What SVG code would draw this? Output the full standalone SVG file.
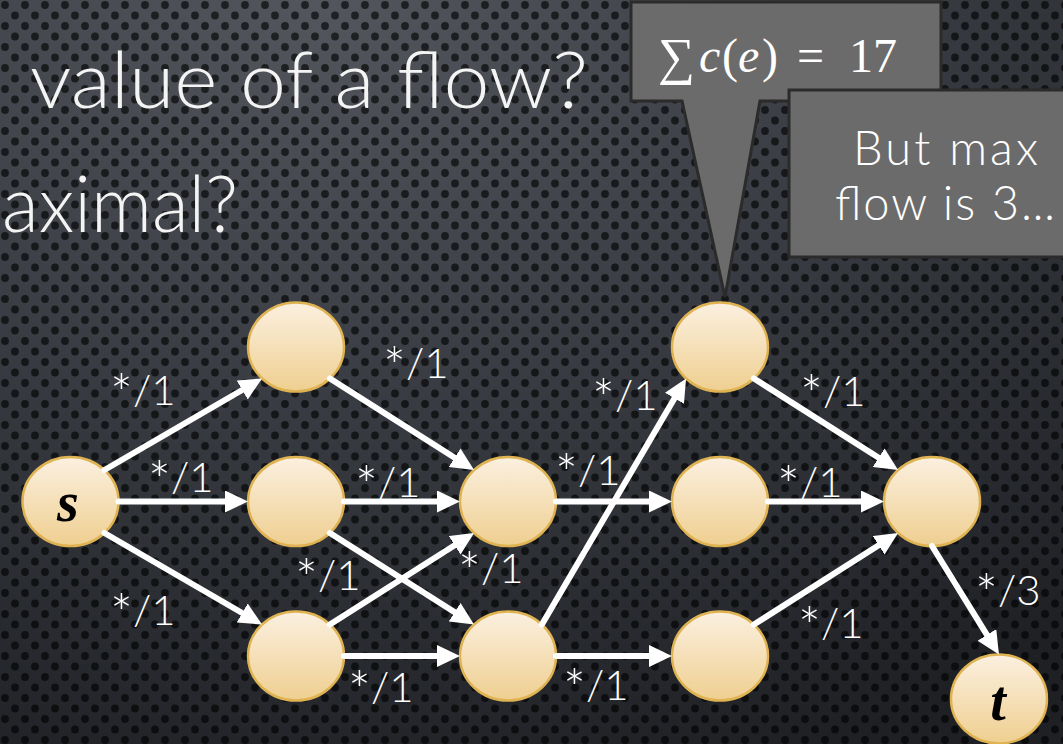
<svg xmlns="http://www.w3.org/2000/svg" width="1063" height="744" viewBox="0 0 1063 744">
<defs>
<radialGradient id="bg" cx="0.3" cy="0" r="1.1" gradientUnits="objectBoundingBox">
<stop offset="0" stop-color="#53565d"/>
<stop offset="0.5" stop-color="#383b41"/>
<stop offset="1" stop-color="#1e2024"/>
</radialGradient>
<pattern id="dots" x="0" y="0" width="20" height="21" patternUnits="userSpaceOnUse">
<circle cx="5" cy="5" r="3.9" fill="#000" fill-opacity="0.62"/>
<circle cx="15" cy="15.5" r="3.9" fill="#000" fill-opacity="0.62"/>
</pattern>
<linearGradient id="nodeFill" x1="0" y1="0" x2="0" y2="1">
<stop offset="0" stop-color="#fbf0e0"/>
<stop offset="1" stop-color="#efcf90"/>
</linearGradient>
<marker id="arr" markerUnits="userSpaceOnUse" markerWidth="23" markerHeight="22" refX="8" refY="11" orient="auto">
<path d="M0,0 L23,11 L0,22 Z" fill="#fff"/>
</marker>
<style>
.node{fill:url(#nodeFill);stroke:#dfb252;stroke-width:2.5}
.edge{stroke:#fff;stroke-width:6;stroke-linecap:round;fill:none;marker-end:url(#arr)}
.lbl{font-family:"Lato","Open Sans","Liberation Sans",sans-serif;font-weight:300;font-size:42px;fill:#fff}
.ast{font-size:54px}
.title{font-family:"Lato","Open Sans","Liberation Sans",sans-serif;font-weight:300;font-size:78px;fill:#f4f4f4}
.call{fill:#6b6b6b;stroke:#2b2b2b;stroke-width:3}
.ctext{font-family:"Lato","Open Sans","Liberation Sans",sans-serif;font-weight:300;font-size:47px;fill:#fff}
.math{font-family:"Liberation Serif","DejaVu Serif",serif;font-size:48px;fill:#fff}
.st{font-family:"Liberation Serif","DejaVu Serif",serif;font-weight:bold;font-style:italic;font-size:56px;fill:#000}
</style>
</defs>
<rect x="0" y="0" width="1063" height="744" fill="url(#bg)"/>
<rect x="0" y="0" width="1063" height="744" fill="url(#dots)"/>

<g id="title">
<text class="title" x="30" y="108" textLength="558" lengthAdjust="spacingAndGlyphs">value of a flow?</text>
<text class="title" x="2" y="232" textLength="236" lengthAdjust="spacingAndGlyphs">aximal?</text>
</g>

<g id="nodes">
<g id="node-s"><ellipse class="node" cx="70.5" cy="501.5" rx="48" ry="44.5"/><text class="st" x="68" y="521" text-anchor="middle">s</text></g>
<g id="node-a"><ellipse class="node" cx="296" cy="347" rx="48" ry="44.5"/></g>
<g id="node-b"><ellipse class="node" cx="296" cy="501.5" rx="48" ry="44.5"/></g>
<g id="node-c"><ellipse class="node" cx="296" cy="656" rx="48" ry="44.5"/></g>
<g id="node-d"><ellipse class="node" cx="508" cy="501.5" rx="48" ry="44.5"/></g>
<g id="node-e"><ellipse class="node" cx="508" cy="656" rx="48" ry="44.5"/></g>
<g id="node-f"><ellipse class="node" cx="720" cy="347" rx="48" ry="44.5"/></g>
<g id="node-g"><ellipse class="node" cx="720" cy="501.5" rx="48" ry="44.5"/></g>
<g id="node-h"><ellipse class="node" cx="720" cy="656" rx="48" ry="44.5"/></g>
<g id="node-i"><ellipse class="node" cx="932" cy="501.5" rx="48" ry="44.5"/></g>
<g id="node-t"><ellipse class="node" cx="999" cy="699" rx="48" ry="44.5"/><text class="st" x="998" y="720" text-anchor="middle">t</text></g>
</g>

<g id="connectors">
<line class="edge" x1="104.4" y1="470" x2="249.1" y2="386"/>
<line class="edge" x1="118.5" y1="501.5" x2="233" y2="501.5"/>
<line class="edge" x1="104.4" y1="533" x2="249.1" y2="617"/>
<line class="edge" x1="329.9" y1="378.5" x2="461.4" y2="462"/>
<line class="edge" x1="344" y1="501.5" x2="445" y2="501.5"/>
<line class="edge" x1="329.9" y1="533" x2="461.4" y2="616.5"/>
<line class="edge" x1="329.9" y1="624.5" x2="461.4" y2="541"/>
<line class="edge" x1="344" y1="656" x2="445" y2="656"/>
<line class="edge" x1="541.9" y1="624.5" x2="678.5" y2="391.4"/>
<line class="edge" x1="556" y1="501.5" x2="657" y2="501.5"/>
<line class="edge" x1="556" y1="656" x2="657" y2="656"/>
<line class="edge" x1="753.9" y1="378.5" x2="885.4" y2="462"/>
<line class="edge" x1="768" y1="501.5" x2="869" y2="501.5"/>
<line class="edge" x1="753.9" y1="624.5" x2="885.4" y2="541"/>
<line class="edge" x1="932" y1="546" x2="991.1" y2="641.7"/>
</g>

<g id="labels">
<text class="lbl" x="110" y="405"><tspan class="ast" dy="8">*</tspan><tspan dy="-8">/1</tspan></text>
<text class="lbl" x="148" y="492"><tspan class="ast" dy="8">*</tspan><tspan dy="-8">/1</tspan></text>
<text class="lbl" x="110" y="625"><tspan class="ast" dy="8">*</tspan><tspan dy="-8">/1</tspan></text>
<text class="lbl" x="383" y="378"><tspan class="ast" dy="8">*</tspan><tspan dy="-8">/1</tspan></text>
<text class="lbl" x="355" y="497"><tspan class="ast" dy="8">*</tspan><tspan dy="-8">/1</tspan></text>
<text class="lbl" x="295" y="590"><tspan class="ast" dy="8">*</tspan><tspan dy="-8">/1</tspan></text>
<text class="lbl" x="458" y="583"><tspan class="ast" dy="8">*</tspan><tspan dy="-8">/1</tspan></text>
<text class="lbl" x="348" y="702"><tspan class="ast" dy="8">*</tspan><tspan dy="-8">/1</tspan></text>
<text class="lbl" x="592" y="410"><tspan class="ast" dy="8">*</tspan><tspan dy="-8">/1</tspan></text>
<text class="lbl" x="555" y="485"><tspan class="ast" dy="8">*</tspan><tspan dy="-8">/1</tspan></text>
<text class="lbl" x="563" y="700"><tspan class="ast" dy="8">*</tspan><tspan dy="-8">/1</tspan></text>
<text class="lbl" x="800" y="406"><tspan class="ast" dy="8">*</tspan><tspan dy="-8">/1</tspan></text>
<text class="lbl" x="777" y="497"><tspan class="ast" dy="8">*</tspan><tspan dy="-8">/1</tspan></text>
<text class="lbl" x="798" y="638"><tspan class="ast" dy="8">*</tspan><tspan dy="-8">/1</tspan></text>
<text class="lbl" x="975" y="605"><tspan class="ast" dy="8">*</tspan><tspan dy="-8">/3</tspan></text>
</g>

<g id="callout-sum">
<path class="call" d="M631,2 H941 V101 H760 L725,297 L682,101 H631 Z"/>
<text class="math" y="72"><tspan x="658" font-size="52" dy="2">∑</tspan><tspan x="699" dy="-2" font-style="italic">c</tspan><tspan x="722">(</tspan><tspan x="738" font-style="italic">e</tspan><tspan x="762">)</tspan><tspan x="797">=</tspan><tspan x="849">17</tspan></text>
</g>

<g id="callout-max">
<rect class="call" x="789" y="90" width="290" height="167"/>
<text class="ctext" x="853" y="165" textLength="185">But max</text>
<text class="ctext" x="835" y="220" textLength="220">flow is 3…</text>
</g>
</svg>
